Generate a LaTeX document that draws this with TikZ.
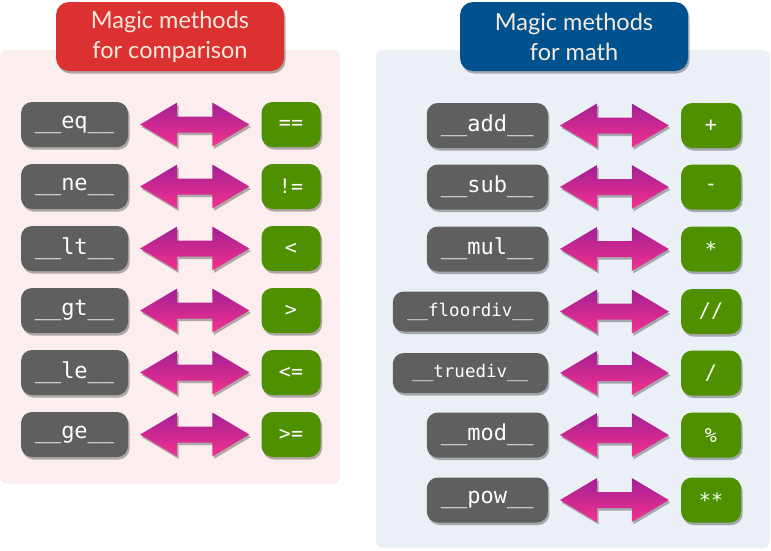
\documentclass[tikz,border=0pt]{standalone}
\usepackage{fontspec}
\setmainfont{Lato}
\newfontfamily\codefont{DejaVu Sans Mono}
\usetikzlibrary{shadows,calc}

\definecolor{panelpink}{HTML}{FCEEEE}
\definecolor{panelblue}{HTML}{EBF0F7}
\definecolor{titlered}{HTML}{DC3131}
\definecolor{titleblue}{HTML}{00528F}
\definecolor{titletext}{HTML}{F7EADD}
\definecolor{boxgray}{HTML}{5F5F5F}
\definecolor{opgreen}{HTML}{4F9000}
\definecolor{arrowtop}{HTML}{A22094}
\definecolor{arrowbot}{HTML}{F4318F}

\tikzset{
  softshadow/.style={drop shadow={shadow xshift=1.5pt, shadow yshift=-2.5pt, opacity=0.3, fill=black}},
  panel/.style={rounded corners=7pt, draw=none},
  titlebox/.style={rounded corners=13pt, minimum width=228pt, minimum height=69pt,
    inner sep=0pt, align=center, text=titletext, softshadow,
    font=\fontsize{23.5}{30}\selectfont},
  methodbox/.style={fill=boxgray, rounded corners=11pt, minimum height=45pt, inner sep=0pt,
    text=white, softshadow, font=\codefont\fontsize{22}{24}\selectfont},
  longmethod/.style={methodbox, minimum height=40pt, font=\codefont\fontsize{17.5}{20}\selectfont},
  opbox/.style={fill=opgreen, rounded corners=11pt, minimum height=45pt, inner sep=0pt,
    text=white, softshadow, font=\codefont\fontsize{20}{22}\selectfont},
  pairfill/.style={top color=arrowtop, bottom color=arrowbot, draw=none, softshadow},
}

% double-headed arrow between the east side of #1 and the west side of #2
\newcommand\pairarrow[2]{%
  \path let \p1=(#1.east), \p2=(#2.west) in [pairfill]
    ({\x1+12pt},{\y1}) -- ({\x1+49pt},{\y1+22pt}) -- ({\x1+49pt},{\y1+8pt})
    -- ({\x2-49pt},{\y1+8pt}) -- ({\x2-49pt},{\y1+22pt}) -- ({\x2-12pt},{\y1})
    -- ({\x2-49pt},{\y1-22pt}) -- ({\x2-49pt},{\y1-8pt})
    -- ({\x1+49pt},{\y1-8pt}) -- ({\x1+49pt},{\y1-22pt}) -- cycle;}

\begin{document}
\begin{tikzpicture}[x=1pt,y=-1pt]
\useasboundingbox (0,0) rectangle (771,550);

% background panels
\fill[panel, panelpink] (0,50) rectangle (340,484);
\fill[panel, panelblue] (376,50) rectangle (770,548);

% titles
\node[titlebox, fill=titlered] (tcmp) at (170,36.5) {Magic methods\\for comparison};
\node[titlebox, fill=titleblue] (tmath) at (574,36.5) {Magic methods\\for math};

% comparison column
\foreach \name/\meth/\op/\y in {eq/\_\_eq\_\_/==/124.5, ne/\_\_ne\_\_/!=/186.5,
    lt/\_\_lt\_\_/</248.5, gt/\_\_gt\_\_/>/310.5, le/\_\_le\_\_/<=/372.5,
    ge/\_\_ge\_\_/>=/434.5}{
  \node[methodbox, minimum width=107pt] (m-\name) at (74.5,\y) {\meth};
  \node[opbox, minimum width=59pt] (o-\name) at (291,\y) {\op};
  \pairarrow{m-\name}{o-\name}
}

% math column
\foreach \name/\meth/\op/\y in {add/\_\_add\_\_/+/125.5, sub/\_\_sub\_\_/-/187,
    mul/\_\_mul\_\_/*/249, mod/\_\_mod\_\_/\%/435, pow/\_\_pow\_\_/**/500}{
  \node[methodbox, minimum width=121pt, anchor=east] (m-\name) at (548,\y) {\meth};
  \node[opbox, minimum width=60pt] (o-\name) at (711,\y) {\op};
  \pairarrow{m-\name}{o-\name}
}
\foreach \name/\meth/\op/\y in {floordiv/\_\_floordiv\_\_/{//}/311.5,
    truediv/\_\_truediv\_\_/{/}/373}{
  \node[longmethod, minimum width=155pt, anchor=east] (m-\name) at (548,\y) {\meth};
  \node[opbox, minimum width=60pt] (o-\name) at (711,\y) {\op};
  \pairarrow{m-\name}{o-\name}
}
\end{tikzpicture}
\end{document}
